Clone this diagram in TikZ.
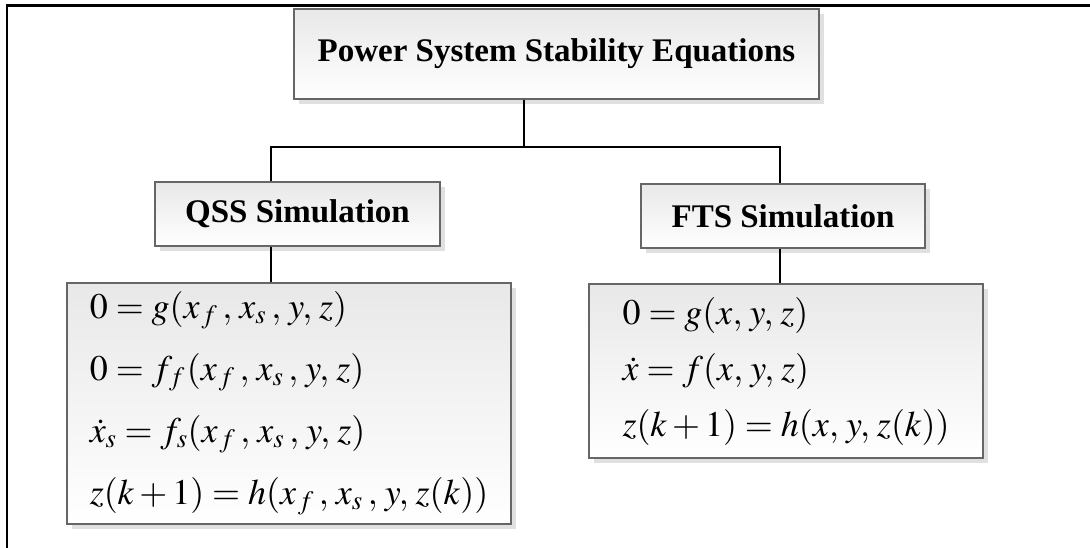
\documentclass[tikz,border=0pt]{standalone}
\usepackage{mathptmx}
\usepackage[no-math]{fontspec}
\setmainfont{Liberation Serif}
\usetikzlibrary{shadows}
\newcommand\mycomma{,\kern3pt}
\newcommand\myxf{x_{\kern2pt f}\kern5pt}
\newcommand\myxs{x_{s}\kern5pt}
\begin{document}
\begin{tikzpicture}[x=1pt,y=-1pt,
  box/.style={draw=black!60, line width=1.3pt, top color=black!9, bottom color=white,
    drop shadow={opacity=1, fill=black!12, shadow xshift=5pt, shadow yshift=-5pt},
    inner sep=0pt, align=center},
  lab/.style={box, font=\fontsize{33}{40}\selectfont\bfseries},
  eqbox/.style={box, align=left},
  conn/.style={draw=black, line width=2pt}]
\useasboundingbox (0,0) rectangle (1090,548);
\fill[white] (0,0) rectangle (1090,548);
\draw[line width=2.7pt, line cap=rect] (7,552) -- (7,5.3) -- (1094,5.3);

\node[lab, minimum width=525pt, minimum height=90pt] (top) at (556.5,54) {Power System Stability Equations};
\node[lab, minimum width=285pt, minimum height=64pt] (qss) at (297.5,214) {QSS Simulation};
\node[lab, minimum width=284pt, minimum height=64pt] (fts) at (783,216) {FTS Simulation};

\node[eqbox, minimum width=444pt, minimum height=241pt, font=\fontsize{36}{62}\selectfont] (qsseq) at (289,403.5)
  {$0=g(\myxf\mycomma\myxs\mycomma y\mycomma z)$\\
   $0=f_{\kern1pt f}\kern2pt(\myxf\mycomma\myxs\mycomma y\mycomma z)$\\
   $\dot{x}_s=f_s(\myxf\mycomma\myxs\mycomma y\mycomma z)$\\
   $z(k+1)=h(\myxf\mycomma\myxs\mycomma y\mycomma z(k))$};
\node[eqbox, minimum width=394pt, minimum height=174pt, font=\fontsize{36}{56}\selectfont] (ftseq) at (786,371)
  {$0=g(x\mycomma y\mycomma z)$\\ $\dot{x}=f(x\mycomma y\mycomma z)$\\ $z(k+1)=h(x\mycomma y\mycomma z(k))$};

\coordinate (j) at (524,147);
\coordinate (cL) at (271,147);
\coordinate (cR) at (780,147);
\draw[conn] (top.south -| j) -- (j);
\draw[conn] (cL |- qss.north) -- (cL) -- (cR) -- (cR |- fts.north);
\draw[conn] (qss.south -| cL) -- (qsseq.north -| cL);
\draw[conn] (fts.south -| cR) -- (ftseq.north -| cR);
\end{tikzpicture}
\end{document}
